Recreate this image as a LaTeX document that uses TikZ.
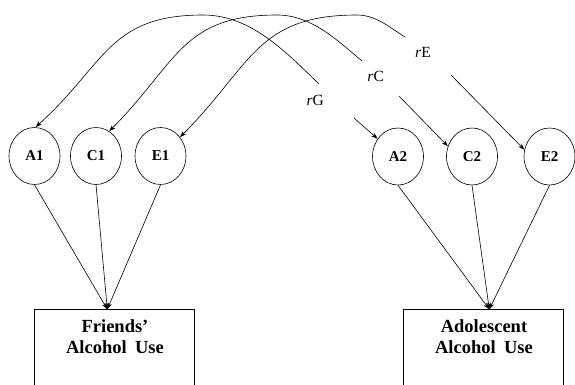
\documentclass[tikz,border=0pt]{standalone}
\usepackage{fontspec}
\setmainfont{Liberation Serif}
\usetikzlibrary{shapes.geometric,arrows.meta}
\begin{document}
\begin{tikzpicture}[x=1pt,y=1pt,line width=0.6pt,
  lat/.style={ellipse,draw,minimum width=51pt,minimum height=57pt,inner sep=0pt,font=\fontsize{15}{18}\selectfont\bfseries},
  obs/.style={rectangle,draw,minimum width=160pt,minimum height=100pt,anchor=north,inner sep=0pt},
  obstext/.style={align=center,font=\fontsize{18.5}{21}\selectfont\bfseries},
  corr/.style={font=\fontsize{15.5}{18}\selectfont},
  tip/.style={-{Stealth[length=6.5pt,width=4.5pt]}}]
\useasboundingbox (0,0) rectangle (575,384);
\clip (0,0) rectangle (575,384);
% latent variables
\node[lat] (A1) at (34.5,228) {A1};
\node[lat] (C1) at (96,228) {C1};
\node[lat] (E1) at (160.5,228) {E1};
\node[lat] (A2) at (398,227.5) {A2};
\node[lat] (C2) at (472,227.5) {C2};
\node[lat] (E2) at (549.5,227.5) {E2};
% observed boxes
\node[obs] (FB) at (114,74.7) {};
\node[obs] (AB) at (483.3,74.7) {};
\node[obstext] (FBt) at (115,47) {Friends'\\Alcohol\hskip0.45em Use};
\node[obstext] (ABt) at (484,47) {Adolescent\\Alcohol\hskip0.45em Use};
\coordinate (fIn) at (107.3,74.7);
\coordinate (aIn) at (489.3,74.7);
% paths to boxes
\draw[tip] (A1.south) -- (fIn);
\draw[tip] (C1.south) -- (fIn);
\draw[tip] (E1.south) -- (fIn);
\draw[tip] (A2.south) -- (aIn);
\draw[tip] (C2.south) -- (aIn);
\draw[tip] (E2.south) -- (aIn);
% correlation arcs
\coordinate (pA) at (203,369);
\coordinate (pC) at (277,369);
\coordinate (pE) at (357,369);
\coordinate (gA1) at (319,300);
\coordinate (gA2) at (354,266);
\coordinate (gC1) at (362,323);
\coordinate (gC2) at (399,288);
\coordinate (gE1) at (405,347);
\coordinate (gE2) at (451,309);
\node[corr] (lG) at (315.3,284) {\textit{r}G};
\node[corr] (lC) at (375.7,307.3) {\textit{r}C};
\node[corr] (lE) at (423,331.3) {\textit{r}E};
\draw[tip] (gA1) to[out=136,in=0,looseness=0.9] (pA) to[out=180,in=42,looseness=1.2] (A1.88);
\draw[tip] (gA2) -- (A2.139);
\draw[tip] (gC1) to[out=140,in=0,looseness=0.9] (pC) to[out=180,in=45,looseness=1.2] (C1.62);
\draw[tip] (gC2) -- (C2.157);
\draw[tip] (gE1) to[out=148,in=0,looseness=0.9] (pE) to[out=180,in=45,looseness=1.2] (E1.44);
\draw[tip] (gE2) -- (E2.165);
\end{tikzpicture}
\end{document}
